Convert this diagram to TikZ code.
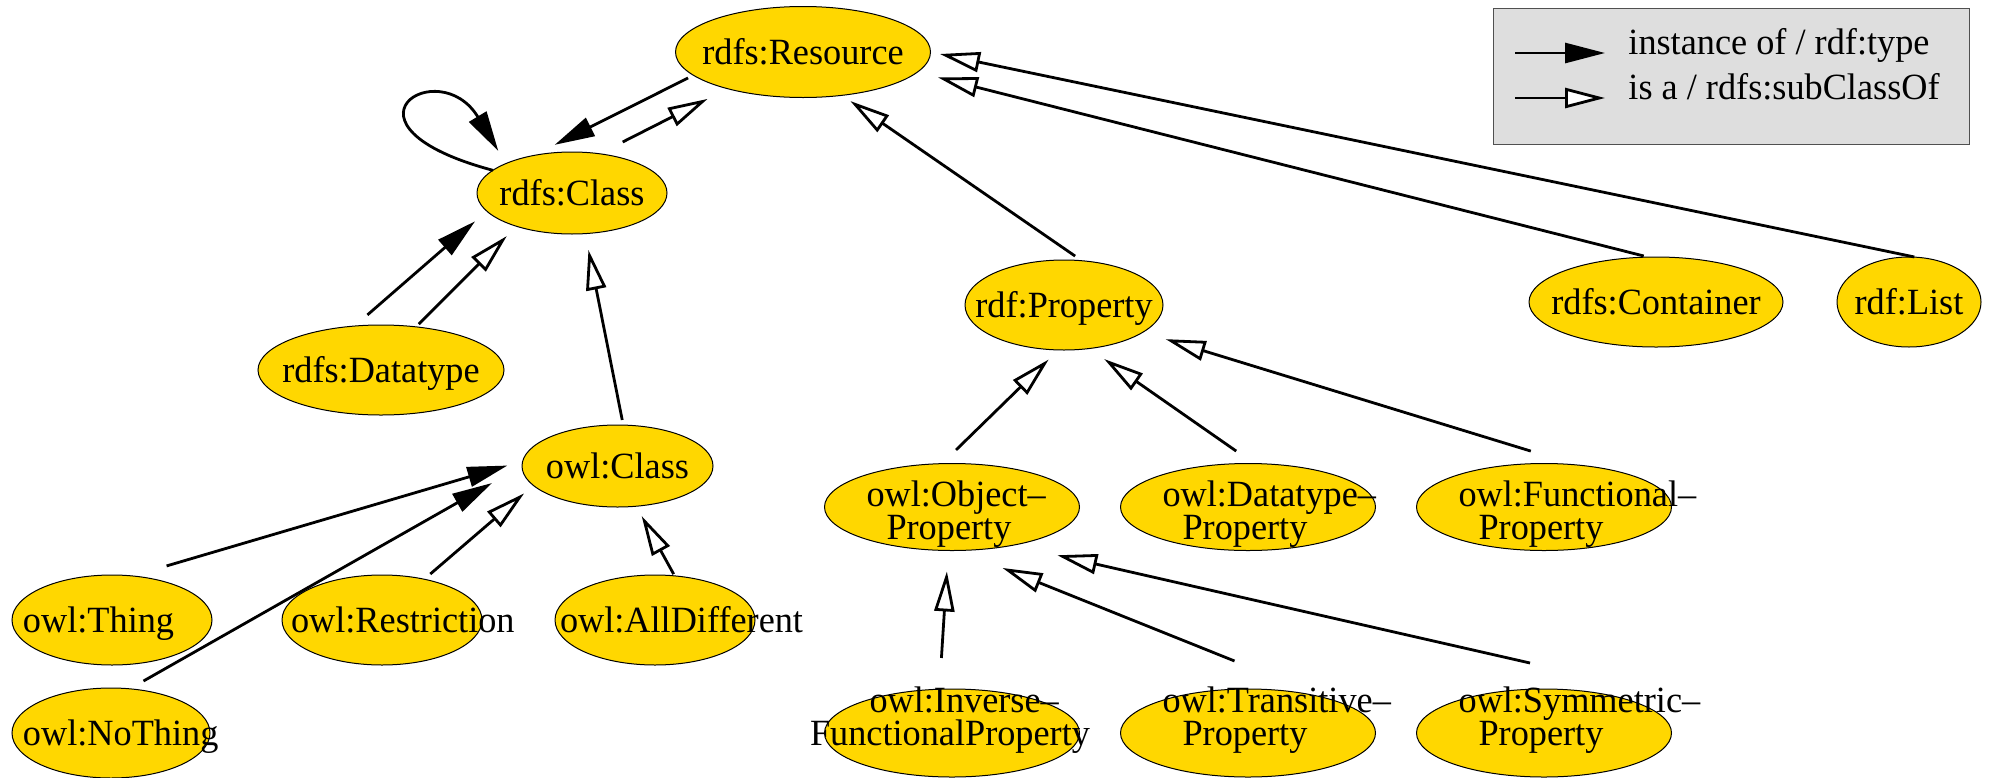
\documentclass[tikz,border=0pt]{standalone}
\usepackage{fontspec}
\setmainfont{Liberation Serif}[FakeStretch=0.98]
\usetikzlibrary{arrows.meta,shapes.geometric,calc}
\definecolor{nodegold}{RGB}{255,215,0}
\definecolor{legendgray}{RGB}{222,222,222}
\definecolor{legendedge}{RGB}{80,80,80}
\newcommand{\ctext}[1]{\makebox[0pt][c]{\raisebox{-6.1pt}[0pt][0pt]{#1}}}
\newcommand{\ltext}[3]{\makebox[0pt][l]{\raisebox{#2}[0pt][0pt]{\hspace*{#1}#3}}}
\begin{document}
\begin{tikzpicture}[x=0.5pt,y=-0.5pt,
  onode/.style={ellipse, draw=black, line width=0.5pt, fill=nodegold, inner sep=0pt, outer sep=0pt,
    font=\fontsize{18.5pt}{16pt}\selectfont},
  wide/.style={onode, minimum width=127.5pt, minimum height=43.5pt},
  low/.style={onode, minimum width=127.5pt, minimum height=44pt},
  mid/.style={onode, minimum width=100pt, minimum height=45pt},
  typeof/.style={line width=1.4pt, -{Triangle[length=20pt,width=10pt]}},
  subof/.style={line width=1.4pt, -{Triangle[open,fill=white,length=20pt,width=10pt]}},
  legtext/.style={anchor=base west, inner sep=0pt, font=\fontsize{18.5pt}{16pt}\selectfont},
]
\useasboundingbox (0,0) rectangle (1991,777);

% legend
\node[draw=legendedge, line width=0.6pt, fill=legendgray, minimum width=238pt, minimum height=68pt,
  inner sep=0pt, anchor=north west] (legend) at (1493,8) {};
\coordinate (la1s) at (1515,53);
\coordinate (la1e) at (1605,53);
\coordinate (la2s) at (1515,98);
\coordinate (la2e) at (1605,98);
\draw[typeof] (la1s) -- (la1e);
\draw[subof] (la2s) -- (la2e);
\node[legtext] (lt1) at (1628,54) {instance of / rdf:type};
\node[legtext] (lt2) at (1628,99) {is a / rdfs:subClassOf};

% nodes
\node[onode, minimum width=127.5pt, minimum height=45.5pt] (res) at (803,52) {\ctext{rdfs:Resource}};
\node[onode, minimum width=95pt, minimum height=41pt] (cls) at (572,193) {\ctext{rdfs:Class}};
\node[onode, minimum width=123pt, minimum height=45pt] (dtype) at (381,370) {\ctext{rdfs:Datatype}};
\node[onode, minimum width=95.5pt, minimum height=41pt] (owlcls) at (617.5,466) {\ctext{owl:Class}};
\node[onode, minimum width=99pt, minimum height=45pt] (prop) at (1064,305) {\ctext{rdf:Property}};
\node[onode, minimum width=127pt, minimum height=45pt] (cont) at (1656,302) {\ctext{rdfs:Container}};
\node[onode, minimum width=72pt, minimum height=45pt] (list) at (1909,302) {\ctext{rdf:List}};

\node[wide] (objp) at (952,507) {\ltext{-42.75pt}{0.5pt}{owl:Object–}\ltext{-32.75pt}{-16pt}{Property}};
\node[wide] (dtp) at (1248,507) {\ltext{-42.75pt}{0.5pt}{owl:Datatype–}\ltext{-32.75pt}{-16pt}{Property}};
\node[wide] (fnp) at (1544,507) {\ltext{-42.75pt}{0.5pt}{owl:Functional–}\ltext{-32.75pt}{-16pt}{Property}};

\node[mid] (thing) at (112,620) {\ltext{-44.5pt}{-6.1pt}{owl:Thing}};
\node[mid] (restr) at (382,620) {\ltext{-45.5pt}{-6.1pt}{owl:Restriction}};
\node[mid] (alld) at (655,620) {\ltext{-47.5pt}{-6.1pt}{owl:AllDifferent}};
\node[mid, minimum width=99pt] (nothing) at (111,733) {\ltext{-44pt}{-6.1pt}{owl:NoThing}};

\node[low] (invfp) at (952,733) {\ltext{-41.25pt}{10.5pt}{owl:Inverse–}\ltext{-71pt}{-6pt}{FunctionalProperty}};
\node[low] (trp) at (1248,733) {\ltext{-42.75pt}{10.5pt}{owl:Transitive–}\ltext{-32.75pt}{-6pt}{Property}};
\node[low] (symp) at (1544,733) {\ltext{-42.75pt}{10.5pt}{owl:Symmetric–}\ltext{-32.75pt}{-6pt}{Property}};

% connectors
\draw[subof, shorten <=13pt, shorten >=11.25pt] (cls.55.9) -- (res.206.6);
\draw[typeof, shorten <=3pt, shorten >=12pt] (res.192) -- (cls.136.6);
\draw[typeof, shorten >=7.4pt] (cls.164) .. controls +(195:175) and +(239:130) .. (cls.156);
\draw[typeof, shorten <=8.5pt, shorten >=7.75pt] (dtype.121.4) -- (cls.192.7);
\draw[subof, shorten <=2pt, shorten >=6.9pt] (dtype.51.6) -- (cls.211.1);
\draw[subof, shorten <=2.6pt, shorten >=8.35pt] (owlcls.82.3) -- (cls.288.8);
\draw[typeof, shorten <=17.75pt, shorten >=8pt] (thing.65.7) -- (owlcls.177.9);
\draw[typeof, shorten <=7.9pt, shorten >=17.25pt] (nothing.67.6) -- (owlcls.180.6);
\draw[subof, shorten <=4pt, shorten >=6.1pt] (restr.44.2) -- (owlcls.193.6);
\draw[subof, shorten <=1pt, shorten >=5.6pt] (alld.66.7) -- (owlcls.295.6);
\draw[subof, shorten <=4.1pt, shorten >=5.05pt] (prop.68.2) -- (res.312.5);
\draw[subof, shorten <=2.25pt, shorten >=10.65pt] (cont.100.8) -- (res.350.9);
\draw[subof, shorten <=0.5pt, shorten >=4.85pt] (list.82.6) -- (res.0);
\draw[subof, shorten <=9.8pt, shorten >=6.85pt] (objp.103.1) -- (prop.263.5);
\draw[subof, shorten <=10.9pt, shorten >=9.2pt] (dtp.82.4) -- (prop.300.9);
\draw[subof, shorten <=23.5pt, shorten >=11.9pt] (fnp.53.8) -- (prop.341.2);
\draw[subof, shorten <=15.65pt, shorten >=10.5pt] (invfp.106.9) -- (objp.265.8);
\draw[subof, shorten <=65.75pt, shorten >=23.5pt] (trp.12.6) -- (objp.279.5);
\draw[subof, shorten >=22.65pt] ($(symp.north)+(-14,-26)$) -- (objp.328.9);
\end{tikzpicture}
\end{document}
